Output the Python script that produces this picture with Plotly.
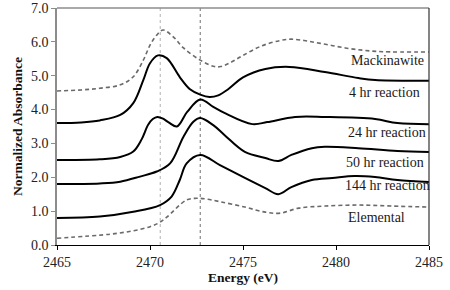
import plotly.graph_objects as go

# ---- data ----
mack_x = [2465, 2466.3, 2467.3, 2468.4, 2469.1, 2469.64, 2470, 2470.36, 2470.7, 2471.25, 2471.8, 2472.7, 2473.4, 2473.8, 2474.3, 2475, 2476, 2477, 2477.6, 2478.5, 2479.5, 2480.5, 2481.5, 2482.5, 2485]
mack_y = [4.55, 4.58, 4.63, 4.73, 4.97, 5.46, 5.9, 6.2, 6.35, 6.15, 5.82, 5.46, 5.28, 5.27, 5.38, 5.6, 5.88, 6.04, 6.08, 6.02, 5.92, 5.82, 5.75, 5.71, 5.70]

hr4_x = [2465, 2466.3, 2467.3, 2468.4, 2469.1, 2469.64, 2470, 2470.43, 2470.9, 2471.6, 2472.15, 2472.7, 2473.2, 2473.67, 2474.2, 2475, 2476.2, 2477.5, 2479.4, 2481.2, 2482.1, 2485]
hr4_y = [3.6, 3.62, 3.68, 3.84, 4.19, 4.87, 5.37, 5.6, 5.52, 4.96, 4.6, 4.44, 4.37, 4.42, 4.6, 4.95, 5.2, 5.26, 5.11, 4.93, 4.87, 4.85]

hr24_x = [2465, 2467.3, 2468.4, 2469.1, 2469.55, 2469.9, 2470.15, 2470.4, 2470.7, 2471.0, 2471.45, 2472, 2472.7, 2473.4, 2474, 2475.5, 2476.3, 2477.8, 2479.4, 2482.1, 2483.3, 2485]
hr24_y = [2.51, 2.53, 2.6, 2.76, 3.12, 3.55, 3.72, 3.78, 3.73, 3.62, 3.5, 3.93, 4.3, 4.08, 3.9, 3.57, 3.63, 3.78, 3.78, 3.72, 3.6, 3.57]

hr50_x = [2465, 2467.3, 2468.4, 2469.46, 2470.36, 2471.08, 2471.8, 2472.33, 2472.7, 2473.4, 2474, 2475.1, 2476.2, 2476.9, 2477.6, 2478.7, 2479.4, 2481.2, 2483.3, 2485]
hr50_y = [1.80, 1.82, 1.87, 2.02, 2.17, 2.41, 3.2, 3.64, 3.75, 3.54, 3.25, 2.75, 2.57, 2.48, 2.66, 2.86, 2.9, 2.86, 2.78, 2.75]

hr144_x = [2465, 2467.3, 2469.1, 2470.54, 2471.16, 2471.6, 2471.97, 2472.7, 2473.76, 2475.1, 2476.2, 2476.9, 2477.6, 2478.7, 2479.8, 2481, 2482.1, 2483.3, 2485]
hr144_y = [0.80, 0.84, 0.98, 1.18, 1.43, 1.92, 2.41, 2.66, 2.36, 1.98, 1.68, 1.5, 1.71, 1.92, 1.98, 2.04, 2.01, 1.92, 1.86]

elem_x = [2465, 2467.85, 2469.1, 2470, 2470.5, 2470.9, 2471.97, 2472.5, 2473, 2473.76, 2475.1, 2476.2, 2477, 2478, 2479.4, 2481.2, 2483, 2485]
elem_y = [0.2, 0.32, 0.42, 0.54, 0.66, 0.82, 1.33, 1.38, 1.36, 1.28, 1.12, 0.97, 0.94, 1.09, 1.15, 1.18, 1.15, 1.12]

ref_lines = [2470.55, 2472.7]

label_names = ["Mackinawite", "4 hr reaction", "24 hr reaction", "50 hr reaction", "144 hr reaction", "Elemental"]
label_x = [2480.7, 2480.6, 2480.55, 2480.45, 2480.4, 2480.55]
label_y = [5.46, 4.49, 3.31, 2.45, 1.77, 0.80]

x_ticks = [2465, 2470, 2475, 2480, 2485]
y_ticks = [0, 1, 2, 3, 4, 5, 6, 7]

# ---- figure ----
FONT = "Times New Roman"
fig = go.Figure()

dash_style = dict(color="#6a6a6a", width=1.6, dash="4px,3px", shape="spline", smoothing=1)
solid_style = dict(color="#000000", width=2, shape="spline", smoothing=1)

fig.add_trace(go.Scatter(x=mack_x, y=mack_y, mode="lines", line=dash_style, hoverinfo="skip"))
fig.add_trace(go.Scatter(x=hr4_x, y=hr4_y, mode="lines", line=solid_style, hoverinfo="skip"))
fig.add_trace(go.Scatter(x=hr24_x, y=hr24_y, mode="lines", line=solid_style, hoverinfo="skip"))
fig.add_trace(go.Scatter(x=hr50_x, y=hr50_y, mode="lines", line=solid_style, hoverinfo="skip"))
fig.add_trace(go.Scatter(x=hr144_x, y=hr144_y, mode="lines", line=solid_style, hoverinfo="skip"))
fig.add_trace(go.Scatter(x=elem_x, y=elem_y, mode="lines", line=dash_style, hoverinfo="skip"))

ref_colors = ["#b0b0b0", "#707070"]
for xv, c in zip(ref_lines, ref_colors):
    fig.add_shape(type="line", xref="x", yref="y", x0=xv, x1=xv, y0=0, y1=7,
                  line=dict(color=c, width=1, dash="3px,3px"), layer="below")

# top and right border
fig.add_shape(type="line", xref="paper", yref="paper", x0=0, x1=1, y0=1, y1=1,
              line=dict(color="#8c8c8c", width=1.5))
fig.add_shape(type="line", xref="paper", yref="paper", x0=1, x1=1, y0=0, y1=1,
              line=dict(color="#333333", width=1.2))

for name, xv, yv in zip(label_names, label_x, label_y):
    fig.add_annotation(x=xv, y=yv, xref="x", yref="y", text=name, showarrow=False,
                       xanchor="left", yanchor="middle",
                       font=dict(family=FONT, size=14, color="#1a1a1a"))

fig.update_layout(
    width=450, height=290,
    margin=dict(l=57, r=21, t=8, b=45, autoexpand=False),
    paper_bgcolor="white", plot_bgcolor="white",
    showlegend=False,
    font=dict(family=FONT, size=14, color="#222222"),
)
fig.update_xaxes(
    range=[2465, 2485], tickvals=x_ticks, ticktext=[str(v) for v in x_ticks],
    showgrid=False, zeroline=False, automargin=False,
    showline=True, linecolor="#000000", linewidth=1.3,
    ticks="outside", ticklen=4, tickcolor="#000000",
    tickfont=dict(family=FONT, size=14, color="#222222"),
    title=dict(text="<b>Energy (eV)</b>", font=dict(family=FONT, size=13.5, color="#111111"), standoff=2),
)
fig.update_yaxes(
    range=[0, 7], tickvals=y_ticks, ticktext=[f"{v:.1f}" for v in y_ticks],
    showgrid=False, zeroline=False, automargin=False,
    showline=True, linecolor="#8c8c8c", linewidth=1.5,
    ticks="outside", ticklen=4, tickcolor="#8c8c8c",
    tickfont=dict(family=FONT, size=14, color="#222222"),
    title=dict(text="<b>Normalized Absorbance</b>", font=dict(family=FONT, size=13.5, color="#111111"), standoff=5),
)

fig.write_html("out.html", config={"displayModeBar": False},
               post_script="document.body.style.margin='0';")
